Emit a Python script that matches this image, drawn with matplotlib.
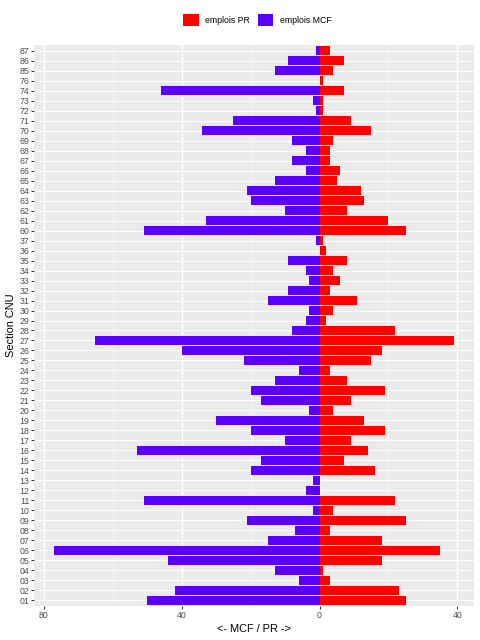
import matplotlib
matplotlib.use("Agg")
from matplotlib import pyplot as plt
from matplotlib.patches import Patch
from matplotlib.ticker import FuncFormatter, MultipleLocator
import numpy as np

plt.rcParams['font.family'] = ['Liberation Sans', 'DejaVu Sans']

sections = ['01', '02', '03', '04', '05', '06', '07', '08', '09', '10',
            '11', '12', '13', '14', '15', '16', '17', '18', '19', '20',
            '21', '22', '23', '24', '25', '26', '27', '28', '29', '30',
            '31', '32', '33', '34', '35', '36', '37', '60', '61', '62',
            '63', '64', '65', '66', '67', '68', '69', '70', '71', '72',
            '73', '74', '76', '85', '86', '87']
emplois_mcf = [50, 42, 6, 13, 44, 77, 15, 7, 21, 2,
               51, 4, 2, 20, 17, 53, 10, 20, 30, 3,
               17, 20, 13, 6, 22, 40, 65, 8, 4, 3,
               15, 9, 3, 4, 9, 0, 1, 51, 33, 10,
               20, 21, 13, 4, 8, 4, 8, 34, 25, 1,
               2, 46, 0, 13, 9, 1]
emplois_pr = [25, 23, 3, 1, 18, 35, 18, 3, 25, 4,
              22, 0, 0, 16, 7, 14, 9, 19, 13, 4,
              9, 19, 8, 3, 15, 18, 39, 22, 2, 4,
              11, 3, 6, 4, 8, 2, 1, 25, 20, 8,
              13, 12, 5, 6, 3, 3, 4, 15, 9, 1,
              1, 7, 1, 4, 7, 3]

col_pr = '#ff0000'
col_mcf = '#5a00ff'

W, H, DPI = 480, 640, 72
fig = plt.figure(figsize=(W / DPI, H / DPI), dpi=DPI)
ax = fig.add_axes([34 / W, (H - 606) / H, 440 / W, 561 / H])

y = np.arange(len(sections))
ax.barh(y, emplois_pr, height=0.9, color=col_pr, zorder=3)
ax.barh(y, -np.array(emplois_mcf), height=0.9, color=col_mcf, zorder=3)

# ggplot-like look
ax.set_facecolor('#ebebeb')
for s in ax.spines.values():
    s.set_visible(False)
ax.xaxis.set_major_locator(MultipleLocator(40))
ax.xaxis.set_minor_locator(MultipleLocator(20))
ax.xaxis.set_major_formatter(FuncFormatter(lambda v, p: f'{abs(v):.0f}'))
ax.set_yticks(y)
ax.set_yticklabels(sections)
ax.grid(which='major', color='white', linewidth=1.1, zorder=0)
ax.grid(which='minor', axis='x', color='white', linewidth=0.55, zorder=0)
ax.set_axisbelow(True)
ax.tick_params(axis='both', which='major', length=2.75, width=1.0, color='#333333',
               labelcolor='#4d4d4d', labelsize=8.8, pad=2)
ax.tick_params(axis='x', which='minor', length=0)

lo, hi = -max(emplois_mcf), max(emplois_pr)
pad = (hi - lo) * 0.05
ax.set_xlim(lo - pad, hi + pad)
ax.set_ylim(-0.6, len(sections) - 0.4)

ax.set_xlabel('<- MCF / PR ->', fontsize=11, color='black', labelpad=4)
ax.set_ylabel('Section CNU', fontsize=11, color='black', labelpad=3)

handles = [Patch(facecolor=col_pr, label='emplois PR'),
           Patch(facecolor=col_mcf, label='emplois MCF')]
fig.legend(handles=handles, loc='center', bbox_to_anchor=(257 / W, 1 - 20 / H), ncol=2,
           frameon=False, fontsize=8.8, handlelength=1.8, handleheight=1.8,
           handletextpad=0.7, columnspacing=0.9, borderpad=0)

fig.savefig('out.png', dpi=DPI)
